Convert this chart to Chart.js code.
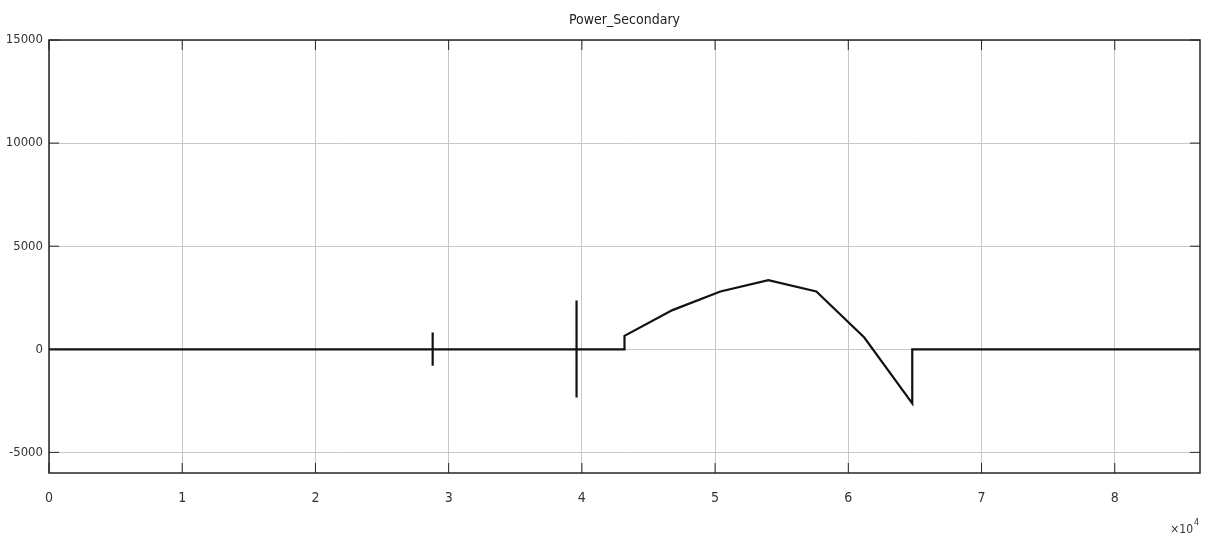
<!DOCTYPE html>
<html>
<head>
<meta charset="utf-8">
<script src="https://cdn.jsdelivr.net/npm/chart.js@4/dist/chart.umd.min.js"></script>
<style>
  html, body { margin: 0; padding: 0; background: #fff; }
  #wrap { width: 1208px; height: 539px; }
</style>
</head>
<body>
<div id="wrap"><canvas id="chart" width="1208" height="539"></canvas></div>
<script>
const chartTitle = 'Power_Secondary';
// time in seconds, power values
const timeSec = [0, 28800, 28800, 28800, 28800, 39600, 39600, 39600, 39600, 43200, 43200, 46800, 50400, 54000, 57600, 61200, 64800, 64800, 86400];
const powerW = [0, 0, 820, -800, 0, 0, 2370, -2340, 0, 0, 650, 1900, 2800, 3350, 2800, 570, -2620, 0, 0];
const xTickValues = [0, 10000, 20000, 30000, 40000, 50000, 60000, 70000, 80000];
const yTickValues = [-5000, 0, 5000, 10000, 15000];
const xExponentLabel = '×10';
const xExponent = '4';

const font = "'DejaVu Sans Condensed', 'Liberation Sans Narrow', 'Liberation Sans', Arial, sans-serif";

const points = timeSec.map((t, i) => ({ x: t, y: powerW[i] }));

const frameAndExtras = {
  id: 'frameAndExtras',
  afterDraw(chart) {
    const { ctx, chartArea: a } = chart;
    ctx.save();
    ctx.strokeStyle = '#262626';
    ctx.lineWidth = 1.5;
    ctx.strokeRect(a.left, a.top, a.right - a.left, a.bottom - a.top);
    // short inward tick marks like the scope
    ctx.lineWidth = 1;
    const xs = chart.scales.x, ys = chart.scales.y;
    xTickValues.forEach(v => {
      const px = xs.getPixelForValue(v);
      ctx.beginPath();
      ctx.moveTo(px, a.bottom); ctx.lineTo(px, a.bottom - 10);
      ctx.moveTo(px, a.top); ctx.lineTo(px, a.top + 10);
      ctx.stroke();
    });
    yTickValues.forEach(v => {
      const py = ys.getPixelForValue(v);
      ctx.beginPath();
      ctx.moveTo(a.left, py); ctx.lineTo(a.left + 10, py);
      ctx.moveTo(a.right, py); ctx.lineTo(a.right - 10, py);
      ctx.stroke();
    });
    // title, centred over the plot area like the scope window
    ctx.fillStyle = '#222';
    ctx.font = '14px ' + font;
    ctx.textAlign = 'center';
    ctx.textBaseline = 'middle';
    ctx.fillText(chartTitle, (a.left + a.right) / 2, 20);
    // exponent label
    ctx.fillStyle = '#333';
    ctx.textBaseline = 'alphabetic';
    ctx.textAlign = 'left';
    ctx.font = '12px ' + font;
    const w = ctx.measureText(xExponentLabel).width;
    const x0 = 1193 - w;
    ctx.fillText(xExponentLabel, x0, 533);
    ctx.font = '9px ' + font;
    ctx.fillText(xExponent, x0 + w + 1, 525);
    ctx.restore();
  }
};

new Chart(document.getElementById('chart'), {
  type: 'scatter',
  data: {
    datasets: [{
      data: points,
      showLine: true,
      borderColor: '#111',
      borderWidth: 2.2,
      pointRadius: 0,
      tension: 0
    }]
  },
  options: {
    responsive: false,
    animation: false,
    layout: { padding: { top: 40, right: 8, bottom: 0, left: 0 } },
    plugins: {
      legend: { display: false },
      tooltip: { enabled: false },
      title: { display: false }
    },
    scales: {
      x: {
        type: 'linear',
        min: 0,
        max: 86400,
        afterBuildTicks: s => { s.ticks = xTickValues.map(v => ({ value: v })); },
        afterFit: s => { s.height = 66; },
        grid: { color: '#c8c8c8', lineWidth: 1, drawTicks: false },
        border: { display: false },
        ticks: {
          color: '#333',
          padding: 17,
          maxRotation: 0,
          font: { family: font, size: 14 },
          callback: v => String(v / 10000)
        }
      },
      y: {
        min: -6000,
        max: 15000,
        afterBuildTicks: s => { s.ticks = yTickValues.map(v => ({ value: v })); },
        afterFit: s => { s.width = 49; },
        grid: { color: '#c8c8c8', lineWidth: 1, drawTicks: false },
        border: { display: false },
        ticks: {
          color: '#333',
          padding: 6,
          font: { family: font, size: 13 },
          callback: v => String(v)
        }
      }
    }
  },
  plugins: [frameAndExtras]
});
</script>
</body>
</html>
